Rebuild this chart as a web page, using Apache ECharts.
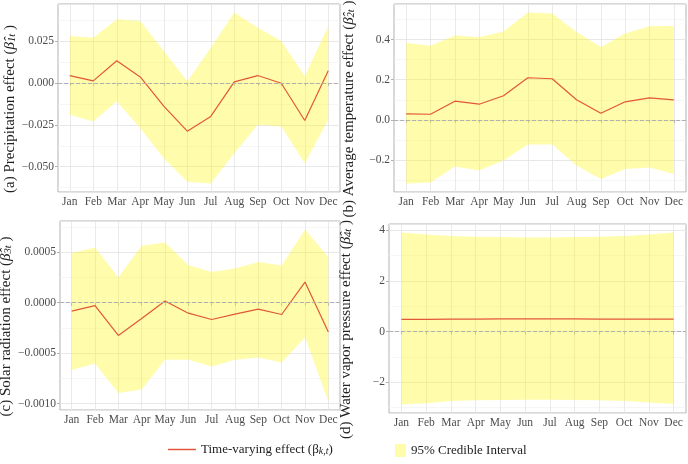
<!DOCTYPE html>
<html><head><meta charset="utf-8">
<script src="https://cdn.jsdelivr.net/npm/echarts@6/dist/echarts.min.js"></script>
<style>html,body{margin:0;padding:0;background:#fff}#c{width:688px;height:464px}</style>
</head><body><div id="c"></div>
<script>
const months = ['Jan','Feb','Mar','Apr','May','Jun','Jul','Aug','Sep','Oct','Nov','Dec'];

const precipMean  = [0.0044, 0.0012, 0.0132, 0.0036, -0.0138, -0.0288, -0.0200, 0.0006, 0.0044, -0.0002, -0.0224, 0.0072];
const precipUpper = [0.028, 0.027, 0.038, 0.037, 0.019, 0.001, 0.021, 0.042, 0.033, 0.025, 0.004, 0.034];
const precipLower = [-0.019, -0.023, -0.011, -0.027, -0.045, -0.059, -0.060, -0.042, -0.025, -0.026, -0.048, -0.022];

const tempMean  = [0.030, 0.028, 0.093, 0.078, 0.120, 0.210, 0.205, 0.100, 0.033, 0.090, 0.110, 0.100];
const tempUpper = [0.383, 0.370, 0.420, 0.412, 0.440, 0.535, 0.530, 0.438, 0.363, 0.430, 0.467, 0.468];
const tempLower = [-0.317, -0.312, -0.232, -0.253, -0.203, -0.123, -0.123, -0.228, -0.295, -0.245, -0.237, -0.270];

const solarMean  = [-0.000084, -0.000030, -0.000325, -0.000157, 0.000017, -0.000104, -0.000167, -0.000114, -0.000064, -0.000117, 0.000204, -0.000291];
const solarUpper = [0.000493, 0.000546, 0.000251, 0.000563, 0.000596, 0.000372, 0.000305, 0.000338, 0.000402, 0.000369, 0.000724, 0.000452];
const solarLower = [-0.000667, -0.000603, -0.000895, -0.000861, -0.000566, -0.000566, -0.000633, -0.000566, -0.000543, -0.000593, -0.000342, -0.000978];

const vaporMean  = [0.48, 0.48, 0.49, 0.49, 0.50, 0.50, 0.50, 0.50, 0.49, 0.49, 0.49, 0.49];
const vaporUpper = [3.91, 3.83, 3.78, 3.75, 3.74, 3.72, 3.72, 3.74, 3.75, 3.78, 3.83, 3.91];
const vaporLower = [-2.88, -2.83, -2.75, -2.72, -2.71, -2.70, -2.70, -2.71, -2.72, -2.75, -2.80, -2.86];

const precipTickStep = 0.025, tempTickStep = 0.2, solarTickStep = 0.0005, vaporTickStep = 2;

const LINE_COLOR = '#E2573A';
const BAND_COLOR = 'rgba(255,245,0,0.33)';
const FONT = 'Liberation Serif';

const panels = [
  {mean: precipMean, upper: precipUpper, lower: precipLower, step: precipTickStep, dec: 3,
   name: '(a) Precipitation effect ({b|β̂}{s|1t} )', grid: {left: 58, top: 4, width: 282, height: 188}, nameGap: 40},
  {mean: tempMean, upper: tempUpper, lower: tempLower, step: tempTickStep, dec: 1,
   name: '(b) Average temperature effect ({b|β̂}{s|2t} )', grid: {left: 394, top: 4, width: 292, height: 188}, nameGap: 37},
  {mean: solarMean, upper: solarUpper, lower: solarLower, step: solarTickStep, dec: 4,
   name: '(c) Solar radiation effect ({b|β̂}{s|3t} )', grid: {left: 60, top: 221, width: 280, height: 189}, nameGap: 42},
  {mean: vaporMean, upper: vaporUpper, lower: vaporLower, step: vaporTickStep, dec: 0,
   name: '(d) Water vapor pressure effect ({b|β̂}{s|4t} )', grid: {left: 389, top: 224, width: 297, height: 189}, nameGap: 35}
];

const grids = [], xAxes = [], yAxes = [], series = [];

panels.forEach((p, i) => {
  const lo = Math.min(...p.lower), hi = Math.max(...p.upper);
  const pad = (hi - lo) * 0.05;
  const yMin = lo - pad, yMax = hi + pad;
  grids.push(Object.assign({show: true, borderColor: '#B3B3B3', borderWidth: 1, backgroundColor: 'transparent',
    containLabel: false, outerBoundsMode: 'none'}, p.grid));
  xAxes.push({
    type: 'category', gridIndex: i, data: months, boundaryGap: true,
    axisLine: {show: false},
    axisTick: {show: true, alignWithLabel: true, length: 3, lineStyle: {color: '#B3B3B3'}},
    axisLabel: {interval: 0, color: '#4D4D4D', fontFamily: FONT, fontSize: 11.5, margin: 4},
    splitLine: {show: true, alignWithLabel: true, interval: 0, lineStyle: {color: '#E4E4E4', width: 0.8}}
  });
  // minor grid axis (drawn first, underneath)
  yAxes.push({
    type: 'value', gridIndex: i, min: yMin, max: yMax,
    minInterval: p.step / 2, maxInterval: p.step / 2,
    axisLine: {show: false}, axisTick: {show: false}, axisLabel: {show: false},
    splitLine: {show: true, lineStyle: {color: '#F0F0F0', width: 0.6}}
  });
  // main axis
  const step = p.step, dec = p.dec;
  yAxes.push({
    type: 'value', gridIndex: i, min: yMin, max: yMax, position: 'left',
    minInterval: step, maxInterval: step,
    name: p.name, nameLocation: 'middle', nameGap: p.nameGap, nameRotate: 90,
    nameTextStyle: {fontFamily: FONT, fontSize: 15, color: '#222', padding: [0, 22, 0, 0],
      rich: {b: {fontFamily: FONT, fontSize: 15, fontStyle: 'italic', color: '#222'},
             s: {fontFamily: FONT, fontSize: 10.5, fontStyle: 'italic', color: '#222', verticalAlign: 'bottom'}}},
    axisLine: {show: false},
    axisTick: {show: true, length: 3, lineStyle: {color: '#B3B3B3'}},
    axisLabel: {showMinLabel: false, showMaxLabel: false, color: '#4D4D4D', fontFamily: FONT, fontSize: 11.5, margin: 4,
      formatter: v => {
        if (Math.abs(v) < step * 1e-6) v = 0;
        const s = v.toFixed(dec);
        return s.replace('-', '\u2212');
      }},
    splitLine: {show: true, lineStyle: {color: '#E4E4E4', width: 0.8}}
  });
  const yi = 2 * i + 1;
  series.push({
    name: 'lower' + i, type: 'line', xAxisIndex: i, yAxisIndex: yi, data: p.lower,
    stack: 'band' + i, stackStrategy: 'all', symbol: 'none', silent: true,
    lineStyle: {opacity: 0, width: 0}, itemStyle: {color: BAND_COLOR}
  });
  series.push({
    name: '95% Credible Interval', type: 'line', xAxisIndex: i, yAxisIndex: yi,
    data: p.upper.map((u, k) => u - p.lower[k]),
    stack: 'band' + i, stackStrategy: 'all', symbol: 'none', silent: true,
    lineStyle: {opacity: 0, width: 0}, itemStyle: {color: BAND_COLOR},
    areaStyle: {color: BAND_COLOR, opacity: 1}
  });
  series.push({
    name: 'Time-varying effect', type: 'line', xAxisIndex: i, yAxisIndex: yi, data: p.mean,
    symbol: 'none', color: LINE_COLOR, itemStyle: {color: LINE_COLOR},
    lineStyle: {color: LINE_COLOR, width: 1.2}, z: 4,
    markLine: {silent: true, symbol: 'none', label: {show: false},
      lineStyle: {type: 'dashed', color: '#B0B0B0', width: 1}, data: [{yAxis: 0}]}
  });
});

const legendText = {fontFamily: FONT, fontSize: 13, color: '#222',
  rich: {t: {fontFamily: FONT, fontSize: 13, color: '#222'},
         s: {fontFamily: FONT, fontSize: 10, fontStyle: 'italic', color: '#222', verticalAlign: 'bottom'}}};

const option = {
  animation: false,
  backgroundColor: '#fff',
  grid: grids, xAxis: xAxes, yAxis: yAxes, series: series,
  legend: [
    {left: 163, top: 438, itemWidth: 28, itemHeight: 1.5, itemGap: 0, selectedMode: false,
     data: [{name: 'Time-varying effect', icon: 'rect', itemStyle: {color: LINE_COLOR}}],
     formatter: () => '{t|Time-varying effect (β}{s|k,t}{t|)}', textStyle: legendText},
    {left: 390, top: 439, itemWidth: 11, itemHeight: 13, itemGap: 0, selectedMode: false,
     data: [{name: '95% Credible Interval', icon: 'rect', itemStyle: {color: BAND_COLOR}}],
     textStyle: legendText}
  ]
};

const chart = echarts.init(document.getElementById('c'), null, {renderer: 'canvas'});
chart.setOption(option);
</script></body></html>
